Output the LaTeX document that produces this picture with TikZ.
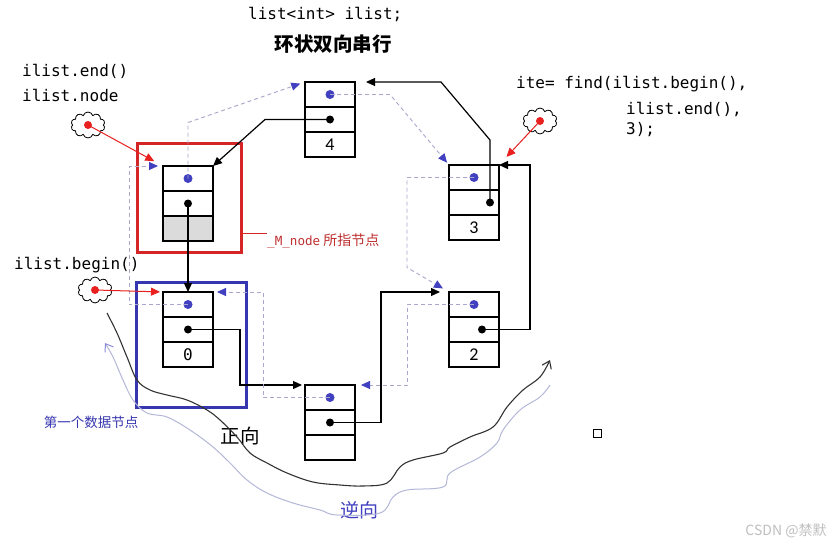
\documentclass[tikz,border=0pt]{standalone}
\usepackage{fontspec}
\setmainfont{Carlito}
\newfontfamily\codefont{DejaVu Sans Mono}
\newfontfamily\cjk{Noto Sans CJK SC}
\usetikzlibrary{positioning,arrows.meta,shapes.symbols}
\definecolor{ptrblue}{HTML}{4040C0}
\definecolor{dashgray}{HTML}{A8A8CC}
\definecolor{ptrred}{HTML}{E82020}
\definecolor{boxred}{HTML}{D42626}
\definecolor{boxblue}{HTML}{3636B0}
\definecolor{tagred}{HTML}{C03030}
\definecolor{backline}{HTML}{B4B8D8}

\begin{document}
\begin{tikzpicture}[x=1pt,y=-1pt,
			cell/.style={draw,line width=1.3pt,minimum width=50pt,minimum height=25pt,inner sep=0pt,outer sep=0pt,font=\fontsize{18}{18}\selectfont},
			nextptr/.style={line width=1.2pt,-{Triangle[length=9pt,width=8pt]}},
			prevptr/.style={dashgray,line width=0.9pt,dash pattern=on 4pt off 3pt,-{Triangle[length=9pt,width=8pt,color=ptrblue]}},
			redptr/.style={ptrred,line width=1pt,-{Triangle[length=9pt,width=8pt]}},
			iter/.style={cloud,cloud puffs=10,draw,line width=0.8pt,minimum width=34pt,minimum height=26pt,inner sep=0pt},
			code/.style={anchor=west,inner sep=0pt,font=\codefont\fontsize{16}{18}\selectfont},
			frame/.style={line width=2.6pt,inner sep=0pt}]
			\useasboundingbox[fill=white] (0,0) rectangle (840,546);
			\node[frame,draw=boxred,minimum width=104pt,minimum height=109pt] (endframe) at (189.5,198) {};
			\node[frame,draw=boxblue,minimum width=110pt,minimum height=125pt] (firstframe) at (191.5,345) {};
			\foreach \n/\x/\y/\v in {hd/188/166/, n4/330/82/4, n3/474/165/3, n0/188/292/{\codefont\fontsize{16}{16}\selectfont 0}, n1/330/385/, n2/474/292/2}{
				\node[cell] (\n-p) at (\x,\y+12.5) {};
				\node[cell,below=0pt of \n-p] (\n-q) {};
				\node[cell,below=0pt of \n-q] (\n-v) {\v};
			}
			\node[cell,fill=black!14] at (hd-v) {};
			\foreach \n/\dx in {hd/0, n4/0, n3/16, n0/0, n1/0, n2/8}{
				\fill[ptrblue] (\n-p.center) circle (4.5pt);
				\path (\n-q.center) ++(\dx,0) coordinate (\n-d);
				\fill (\n-d) circle (4pt);
			}
			\draw[nextptr] (hd-d) -- (n0-p.north);
			\draw[nextptr,shorten >=3pt] (n0-d) -- ++(52,0) |- (n1-p.north west);
			\draw[nextptr,shorten >=9pt] (n1-d) -- ++(51,0) |- (n2-p.north west);
			\draw[nextptr] (n2-d) -- ++(48,0) |- (n3-p.north east);
			\draw[nextptr,shorten >=11pt] (n3-d) -- ++(0,-62.5) -- ++(-49,-58) -- (n4-p.north east);
			\draw[nextptr] (n4-d) -- ++(-65,0) -- (hd-p.north east);
			\draw[prevptr,shorten >=5pt] (hd-p.center) -- ++(0,-56) -- (n4-p.north west);
			\draw[prevptr,shorten >=3pt] (n4-p.center) -- ++(60,0) -- (n3-p.north west);
			\draw[prevptr,shorten >=7pt] (n3-p.center) -- ++(-67,0) -- ++(0,90) -- (n2-p.north west);
			\draw[prevptr,shorten >=6pt] (n2-p.center) -- ++(-67,0) |- (n1-p.north east);
			\draw[prevptr,shorten >=4pt] (n1-p.center) -- ++(-67,0) |- (n0-p.north east);
			\draw[prevptr,shorten >=5pt] (n0-p.center) -- ++(-59,0) |- (hd-p.north west);
			\node[iter] (itend) at (88,125) {};
			\node[iter] (itbeg) at (95,290) {};
			\node[iter] (itfind) at (540,121) {};
			\foreach \c in {itend,itbeg,itfind}
				\fill[ptrred] (\c.center) circle (4pt);
			\draw[redptr,shorten >=10pt] (itend.center) -- (hd-p.north west);
			\draw[redptr,shorten >=3pt] (itbeg.center) -- (n0-p.north west);
			\draw[redptr,shorten >=11pt] (itfind.center) -- (n3-p.north east);
			\node[code] (decl) at (248,14) {list<int> ilist;};
			\node[font=\cjk\bfseries\fontsize{19.5}{20}\selectfont] (title) at (333,44) {环状双向串行};
			\node[code] (endtxt) at (22,71) {ilist.end()};
			\node[code] (nodetxt) at (22,95) {ilist.node};
			\node[code] (begintxt) at (14,265) {ilist.begin()};
			\node[code] (findtxt) at (516,84) {ite= find(ilist.begin(),};
			\node[code] (findend) at (626,109) {ilist.end(),};
			\node[code] (findval) at (626,130) {3);};
			\node[anchor=base west,inner sep=0pt,text=tagred,font=\cjk\fontsize{14}{14}\selectfont] (mtag) at (267,245) {{\codefont\fontsize{12.6}{14}\selectfont\_M\_node} 所指节点};
			\draw[boxred,line width=0.8pt] (endframe.east |- mtag.north) -- (mtag.north west);
			\node[text=boxblue,font=\cjk\fontsize{13.5}{14}\selectfont] (firsttxt) at (91,422) {第一个数据节点};
			\node[font=\cjk\fontsize{19.5}{20}\selectfont] (fwd) at (240,436) {正向};
			\node[text=ptrblue,font=\cjk\fontsize{19}{20}\selectfont] (bwd) at (359,510) {逆向};
			\node[draw,line width=0.8pt,minimum size=8pt,inner sep=0pt] (sq) at (597,433) {};
			\node[text=black!25,font=\cjk\fontsize{14}{14}\selectfont] (mark) at (786,531) {CSDN @禁默};
			\draw[black!80,line width=1.1pt,-{Straight Barb[length=7pt,width=10pt]}] plot[smooth,tension=0.6] coordinates {(107,313) (117,333) (127,357) (137,380) (150,390) (167,395) (187,400) (207,410) (220,420) (237,437) (250,453) (267,463) (287,473) (313,482) (340,485) (363,486) (387,483) (400,467) (413,460) (443,453) (450,447) (470,437) (493,427) (507,407) (523,390) (540,377) (550,360)};
			\draw[backline,line width=1pt,-{Straight Barb[length=7pt,width=10pt,color=ptrblue!60]}] plot[smooth,tension=0.6] coordinates {(550,385) (540,397) (520,410) (503,430) (497,443) (480,457) (450,473) (443,487) (407,490) (393,497) (380,513) (337,515) (320,510) (293,503) (267,493) (247,480) (230,463) (213,447) (190,430) (167,417) (147,413) (133,400) (123,380) (113,357) (105,343)};
		\end{tikzpicture}
\end{document}
